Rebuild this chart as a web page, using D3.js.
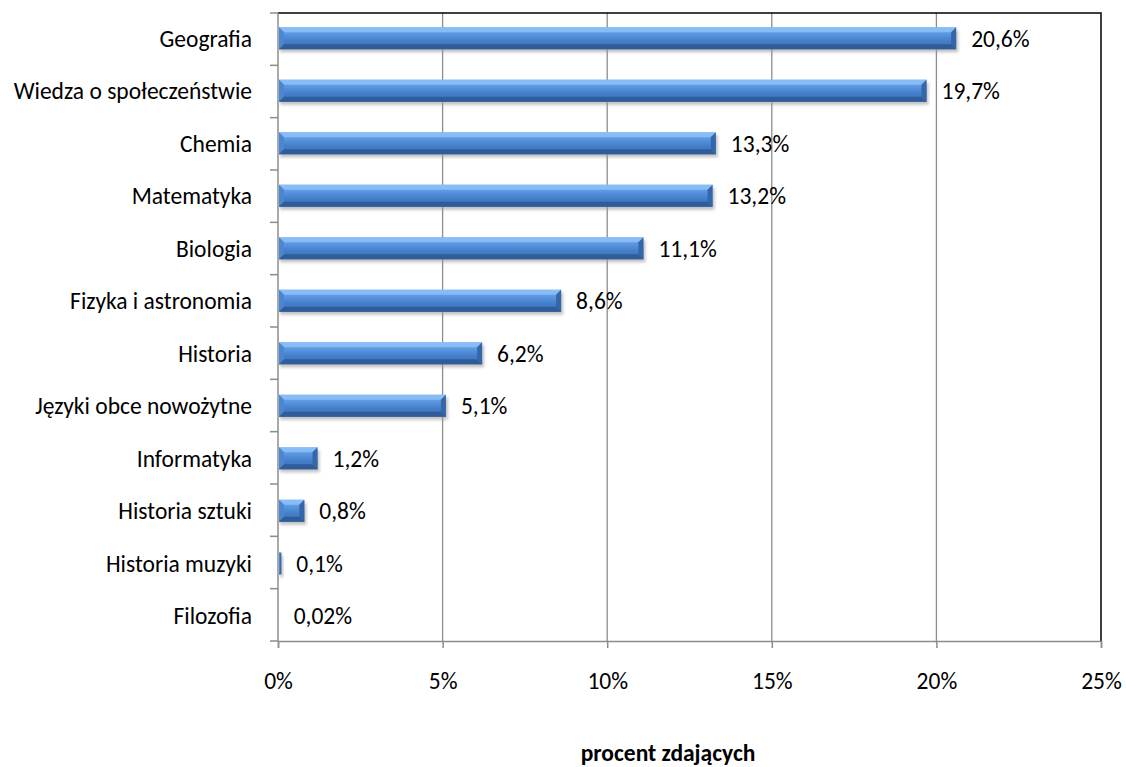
<!DOCTYPE html>
<html>
<head>
<meta charset="utf-8"/>
<title>procent zdających</title>
<script src="https://cdn.jsdelivr.net/npm/d3@7"></script>
<style>
  body { margin: 0; background: #fff; }
  text { font-family: Carlito, Lato, "Liberation Sans", sans-serif; fill: #000; }
</style>
</head>
<body>
<div id="chart"></div>
<script>
// przedmioty i wartości (procent zdających)
var subjects = ["Geografia", "Wiedza o społeczeństwie", "Chemia", "Matematyka", "Biologia",
  "Fizyka i astronomia", "Historia", "Języki obce nowożytne", "Informatyka",
  "Historia sztuki", "Historia muzyki", "Filozofia"];
var values = [20.6, 19.7, 13.3, 13.2, 11.1, 8.6, 6.2, 5.1, 1.2, 0.8, 0.1, 0.02];
var valueLabels = ["20,6%", "19,7%", "13,3%", "13,2%", "11,1%", "8,6%", "6,2%", "5,1%",
  "1,2%", "0,8%", "0,1%", "0,02%"];
var xTicks = [0, 5, 10, 15, 20, 25];
var axisTitle = "procent zdających";

var W = 1126, H = 767;
var pLeft = 278, pRight = 1101, pTop = 13, pBottom = 641;
var fs = 23.5;
var capShift = fs * 0.32; // przesunięcie linii bazowej, by środek wersalików był na środku pasma

var svg = d3.select("#chart").append("svg")
  .attr("width", W)
  .attr("height", H);

var x = d3.scaleLinear().domain([0, 25]).range([pLeft, pRight]);
var y = d3.scaleBand().domain(subjects).range([pTop, pBottom]).paddingInner(0.58).paddingOuter(0.27);

var defs = svg.append("defs");
var grad = defs.append("linearGradient").attr("id", "face")
  .attr("x1", 0).attr("y1", 0).attr("x2", 0).attr("y2", 1);
grad.append("stop").attr("offset", "0%").attr("stop-color", "#78b0f0");
grad.append("stop").attr("offset", "30%").attr("stop-color", "#5b98e0");
grad.append("stop").attr("offset", "60%").attr("stop-color", "#4580cc");
grad.append("stop").attr("offset", "100%").attr("stop-color", "#3b6fb4");

var blur = defs.append("filter").attr("id", "shadow")
  .attr("x", "-5%").attr("y", "-50%").attr("width", "110%").attr("height", "200%");
blur.append("feGaussianBlur").attr("stdDeviation", 1.6);

// siatka
svg.append("g").selectAll("line").data(xTicks.slice(1, -1)).join("line")
  .attr("x1", d => x(d)).attr("x2", d => x(d))
  .attr("y1", pTop).attr("y2", pBottom)
  .attr("stroke", "#8c8c8c").attr("stroke-width", 1.3);

// ramka: góra i prawo czarne
svg.append("path")
  .attr("d", "M" + pLeft + "," + pTop + "H" + pRight + "V" + pBottom)
  .attr("fill", "none").attr("stroke", "#000").attr("stroke-width", 1.5);

// oś X
var xAxis = svg.append("g").attr("transform", "translate(0," + pBottom + ")")
  .call(d3.axisBottom(x).tickValues(xTicks).tickSize(7)
    .tickFormat(d => d + "%"));
xAxis.select(".domain").attr("stroke", "#8c8c8c").attr("stroke-width", 1.5);
xAxis.selectAll(".tick line").attr("stroke", "#8c8c8c").attr("stroke-width", 1.5);
xAxis.selectAll("text").attr("font-size", fs).attr("fill", "#000")
  .attr("y", 48).attr("dy", null)
  .style("font-family", "Carlito, Lato, sans-serif");

// oś Y
var tickYs = d3.range(subjects.length + 1).map(i => pTop + i * (pBottom - pTop) / subjects.length);
svg.append("line").attr("x1", pLeft).attr("x2", pLeft).attr("y1", pTop).attr("y2", pBottom)
  .attr("stroke", "#8c8c8c").attr("stroke-width", 1.5);
svg.append("g").selectAll("line").data(tickYs).join("line")
  .attr("x1", pLeft - 8).attr("x2", pLeft).attr("y1", d => d).attr("y2", d => d)
  .attr("stroke", "#8c8c8c").attr("stroke-width", 1.5);

svg.append("g").selectAll("text").data(subjects).join("text")
  .attr("x", 252).attr("y", d => y(d) + y.bandwidth() / 2 + capShift + 1)
  .attr("text-anchor", "end")
  .attr("font-size", fs).text(d => d);

// słupki
var bars = svg.append("g").selectAll("g").data(values).join("g");
bars.each(function(v, i) {
  var g = d3.select(this);
  var x0 = x(0) + 1, x1 = x(v), y0 = y(subjects[i]), h = y.bandwidth(), y1 = y0 + h;
  var w = x1 - x0;
  if (w <= 0.3) return;
  var b = Math.min(5, w / 2);
  g.append("rect").attr("x", x0 + 1).attr("y", y0 + 3).attr("width", w + 1).attr("height", h)
    .attr("fill", "#9a9a9a").attr("opacity", 0.6).attr("filter", "url(#shadow)");
  g.append("rect").attr("x", x0).attr("y", y0).attr("width", w).attr("height", h)
    .attr("fill", "url(#face)");
  // górna faza
  g.append("path").attr("d", "M" + x0 + "," + y0 + "L" + x1 + "," + y0 + "L" + (x1 - b) + "," + (y0 + b) +
    "L" + (x0 + b) + "," + (y0 + b) + "Z").attr("fill", "#8dc0f7").attr("opacity", 0.85);
  // lewa faza
  g.append("path").attr("d", "M" + x0 + "," + y0 + "L" + (x0 + b) + "," + (y0 + b) + "L" + (x0 + b) + "," + (y1 - b) +
    "L" + x0 + "," + y1 + "Z").attr("fill", "#4a86d2");
  // dolna faza
  g.append("path").attr("d", "M" + x0 + "," + y1 + "L" + (x0 + b) + "," + (y1 - b) + "L" + (x1 - b) + "," + (y1 - b) +
    "L" + x1 + "," + y1 + "Z").attr("fill", "#305d99");
  // prawa faza
  g.append("path").attr("d", "M" + x1 + "," + y0 + "L" + x1 + "," + y1 + "L" + (x1 - b) + "," + (y1 - b) +
    "L" + (x1 - b) + "," + (y0 + b) + "Z").attr("fill", "#3566a8");
});

// etykiety wartości
svg.append("g").selectAll("text").data(values).join("text")
  .attr("x", d => x(d) + 15)
  .attr("y", (d, i) => y(subjects[i]) + y.bandwidth() / 2 + capShift + 1)
  .attr("font-size", fs).text((d, i) => valueLabels[i]);

// tytuł osi
svg.append("text").attr("x", 668).attr("y", 761)
  .attr("text-anchor", "middle")
  .attr("font-size", fs).attr("font-weight", "bold").text(axisTitle);
</script>
</body>
</html>
